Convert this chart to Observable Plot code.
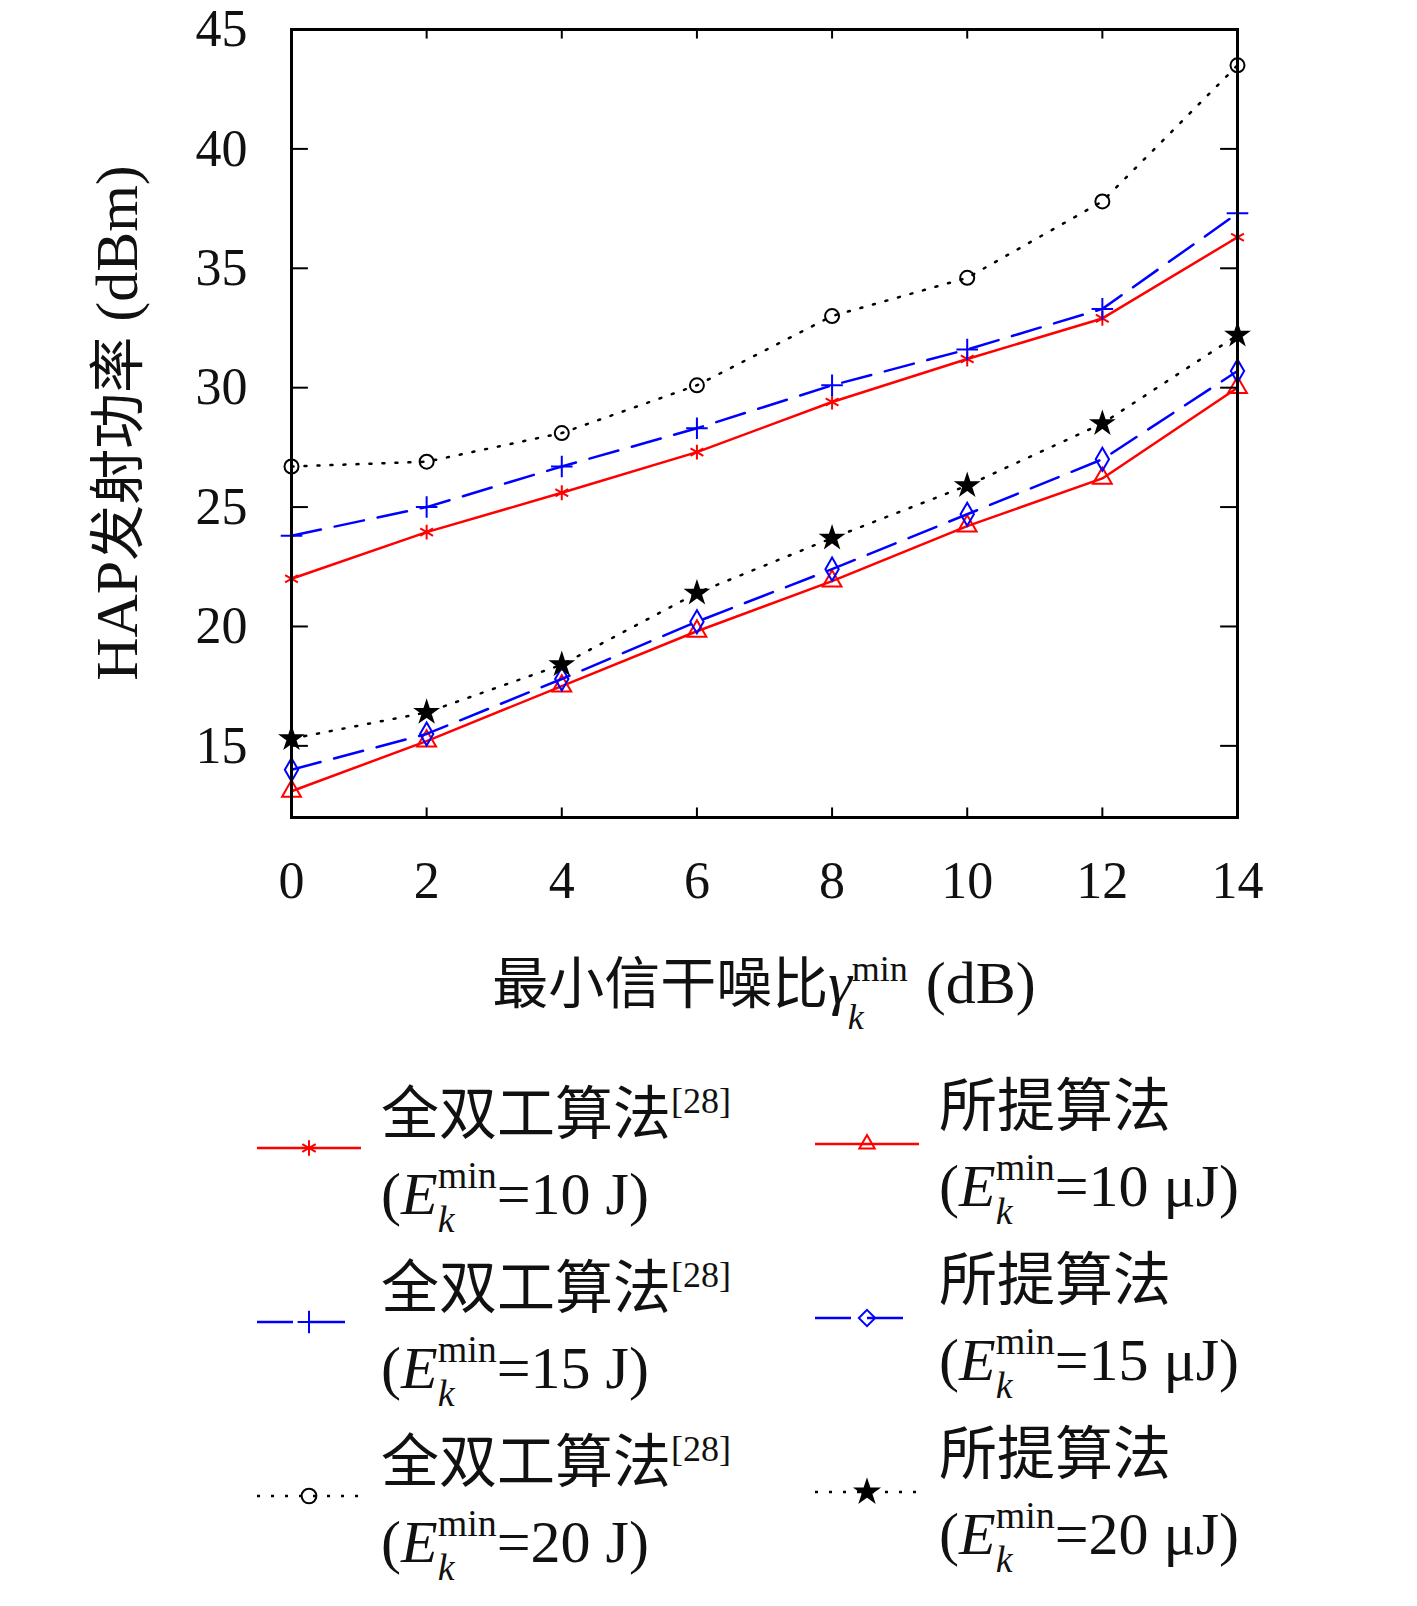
<!DOCTYPE html>
<html><head><meta charset="utf-8">
<script src="https://cdn.jsdelivr.net/npm/d3@7"></script>
<script src="https://cdn.jsdelivr.net/npm/@observablehq/plot@0.6"></script>
<style>
html,body{margin:0;background:#fff;font-family:"Liberation Serif",serif;overflow:hidden;}
#legend{position:relative;width:1417px;height:560px;}
.item{position:absolute;display:flex;align-items:center;}
.txt{font-size:60px;line-height:80px;color:#111;white-space:nowrap;}
.cjk{font-family:"Noto Sans CJK SC";font-size:58px;}
</style></head><body>
<div id="chart"></div>
<div id="legend"></div>
<script>
const xs=[0,2,4,6,8,10,12,14];
const yTicks=[15,20,25,30,35,40,45];
const fd10=[22.0,23.95,25.6,27.3,29.4,31.2,32.9,36.3];
const fd15=[23.8,25.0,26.7,28.3,30.1,31.6,33.3,37.3];
const fd20=[26.7,26.9,28.1,30.1,33.0,34.6,37.8,43.5];
const pr10=[13.1,15.2,17.5,19.8,21.9,24.2,26.2,30.0];
const pr15=[14.0,15.5,17.8,20.2,22.4,24.7,27.0,30.7];
const pr20=[15.3,16.4,18.4,21.4,23.7,25.9,28.5,32.2];
const series=[
 {name:"fd10",v:fd10,color:"#ff0000",dash:null,symbol:"asterisk",fill:"none",lab:"全双工算法",ref:"[28]",e:"10 J"},
 {name:"pr10",v:pr10,color:"#ff0000",dash:null,symbol:"triangle",fill:"none",lab:"所提算法",ref:"",e:"10 μJ"},
 {name:"fd15",v:fd15,color:"#0000ff",dash:"30,14",symbol:"plus",fill:"none",lab:"全双工算法",ref:"[28]",e:"15 J"},
 {name:"pr15",v:pr15,color:"#0000ff",dash:"30,14",symbol:"diamond",fill:"none",lab:"所提算法",ref:"",e:"15 μJ"},
 {name:"fd20",v:fd20,color:"#000000",dash:"2,11",symbol:"circle",fill:"none",lab:"全双工算法",ref:"[28]",e:"20 J"},
 {name:"pr20",v:pr20,color:"#000000",dash:"2,11",symbol:"star",fill:"#000",lab:"所提算法",ref:"",e:"20 μJ"}
];
const marks=[];
for(const s of series){
 const d=xs.map((x,i)=>({x,y:s.v[i]}));
 marks.push(Plot.line(d,{x:"x",y:"y",stroke:s.color,strokeWidth:2.5,strokeDasharray:s.dash}));
 marks.push(Plot.dot(d,{x:"x",y:"y",stroke:s.color,fill:s.fill,symbol:s.symbol,r:s.symbol==="star"?6.5:7,strokeWidth:2}));
}
const tk=0.25, tky=0.4;
marks.push(Plot.ruleY(yTicks,{x1:0,x2:tk,stroke:"#000",strokeWidth:2}));
marks.push(Plot.ruleY(yTicks,{x1:14-tk,x2:14,stroke:"#000",strokeWidth:2}));
marks.push(Plot.ruleX(xs,{y1:12,y2:12+tky,stroke:"#000",strokeWidth:2}));
marks.push(Plot.ruleX(xs,{y1:45-tky,y2:45,stroke:"#000",strokeWidth:2}));
marks.push(Plot.frame({stroke:"#000",strokeWidth:3}));
marks.push(Plot.axisY(yTicks,{tickSize:0,tickPadding:44,fontSize:52,label:null}));
marks.push(Plot.axisX(xs,{tickSize:0,tickPadding:44,fontSize:52,label:null}));
const svg=Plot.plot({width:1417,height:1040,marginLeft:291,marginRight:180,marginTop:29,marginBottom:223,
 style:{fontFamily:"Liberation Serif",color:"#111"},
 x:{domain:[0,14]},y:{domain:[12,45]},marks});
document.getElementById("chart").append(svg);
const s=d3.select(svg);
const yl=s.append("text").attr("transform","translate(137,423) rotate(-90)").attr("text-anchor","middle").attr("font-size",60).attr("fill","#111");
yl.append("tspan").attr("font-family","Liberation Serif").text("HAP");
yl.append("tspan").attr("font-family","Noto Sans CJK SC").attr("font-size",56).text("发射功率");
yl.append("tspan").attr("font-family","Liberation Serif").text(" (dBm)");
const xl=s.append("text").attr("x",764).attr("y",1003).attr("text-anchor","middle").attr("font-size",60).attr("fill","#111");
xl.append("tspan").attr("font-family","Noto Sans CJK SC").attr("font-size",56).text("最小信干噪比");
xl.append("tspan").attr("font-family","Liberation Serif").attr("font-style","italic").text("γ");
xl.append("tspan").attr("font-family","Liberation Serif").attr("font-size",36).attr("dy",-22).text("min");
xl.append("tspan").attr("font-family","Liberation Serif").attr("font-size",36).attr("font-style","italic").attr("dx",-60).attr("dy",48).text("k");
xl.append("tspan").attr("font-family","Liberation Serif").attr("dx",62).attr("dy",-26).text("(dB)");
const leg=document.getElementById("legend");
const tops=[1141,1315,1489];
series.forEach((sr,i)=>{
 const col=i%2,row=Math.floor(i/2);
 const cy=tops[row]-1040;
 const x0=col?815:257;
 const div=document.createElement("div");div.className="item";
 div.style.left=x0+"px";div.style.top=(cy-80)+"px";
 const ls=d3.create("svg").attr("width",104).attr("height",40);
 const ln=ls.append("line").attr("x1",0).attr("x2",104).attr("y1",20).attr("y2",20).attr("stroke",sr.color).attr("stroke-width",2.5);
 if(sr.dash) ln.attr("stroke-dasharray",sr.dash==="30,14"?"36,16":"3,11");
 const sym={asterisk:d3.symbolAsterisk,triangle:d3.symbolTriangle2,plus:d3.symbolPlus,diamond:d3.symbolDiamond2,circle:d3.symbolCircle,star:d3.symbolStar}[sr.symbol];
 ls.append("path").attr("d",d3.symbol(sym,sr.symbol==="star"?150:170)()).attr("transform","translate(52,20)").attr("stroke",sr.color).attr("fill",sr.fill).attr("stroke-width",2);
 div.append(ls.node());
 const t=document.createElement("div");t.className="txt";t.style.marginLeft="20px";
 t.innerHTML=`<span class="cjk">${sr.lab}</span>${sr.ref?`<sup style="font-size:36px">${sr.ref}</sup>`:""}<br>(<i>E</i><span style="display:inline-flex;flex-direction:column;vertical-align:middle;line-height:30px;font-size:38px;margin-top:-4px"><span style="position:relative;top:-8px">min</span><i style="position:relative;top:6px">k</i></span>=${sr.e})`;
 div.append(t);
 leg.append(div);
});
</script></body></html>
